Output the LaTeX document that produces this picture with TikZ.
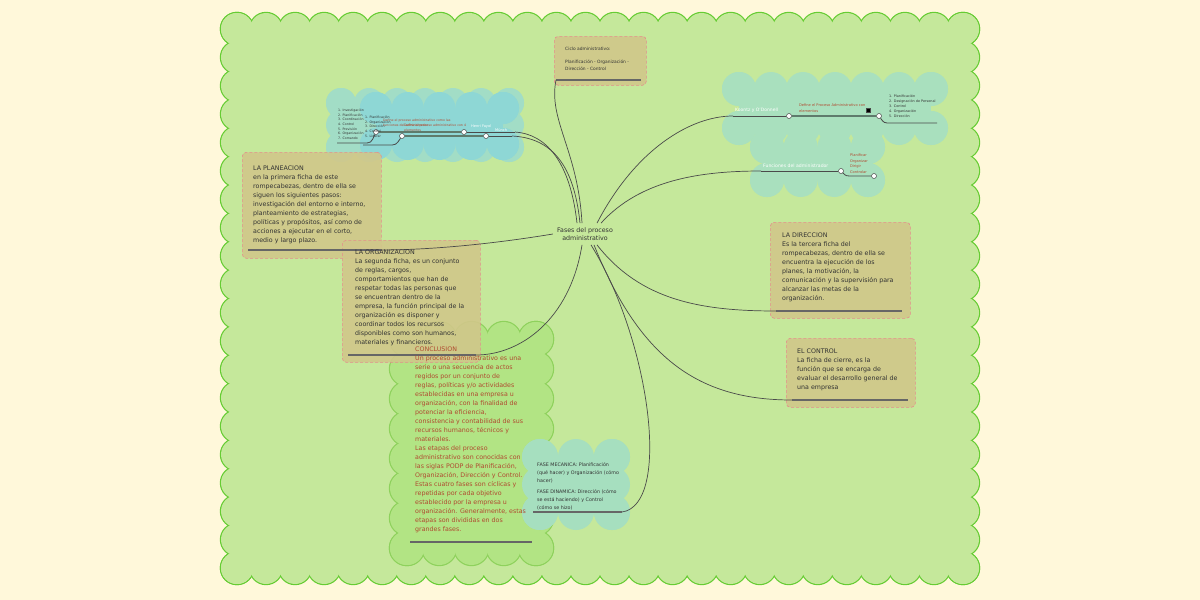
\documentclass[tikz,border=0pt]{standalone}
\usepackage{fontspec}
\setmainfont{DejaVu Sans}
\usetikzlibrary{positioning,calc}

\definecolor{paper}{HTML}{FFF8DA}
\definecolor{board}{HTML}{C5E89B}
\definecolor{boardline}{HTML}{66CC33}
\definecolor{card}{HTML}{D1C78A}
\definecolor{cardline}{HTML}{E58C8C}
\definecolor{ink}{HTML}{333333}
\definecolor{rust}{HTML}{B04A30}
\definecolor{wire}{HTML}{4A4A4A}
\definecolor{rulegray}{HTML}{666666}
\definecolor{stemgray}{HTML}{5E7B6C}
\definecolor{cyanA}{HTML}{A2DDC6}
\definecolor{cyanB}{HTML}{8ED7D5}
\definecolor{mint}{HTML}{A9E0BE}
\definecolor{teal}{HTML}{A6DFBF}
\definecolor{leaf}{HTML}{B2E484}
\definecolor{leafline}{HTML}{8ED15C}

% scalloped patch: x1 y1 x2 y2 (circle centres), radius, fill, border
\newcommand{\puff}[7]{%
  \pgfmathtruncatemacro\nh{max(1,round((#3-#1)/(1.8*#5)))}%
  \pgfmathtruncatemacro\nv{max(1,round((#4-#2)/(1.8*#5)))}%
  \pgfmathsetmacro\dh{(#3-#1)/\nh}%
  \pgfmathsetmacro\dv{(#4-#2)/\nv}%
  \foreach \i in {0,...,\nh}{
    \path[draw=#7,line width=2.4] ({#1+\dh*\i},#2) circle (#5pt) ({#1+\dh*\i},#4) circle (#5pt);}
  \foreach \j in {0,...,\nv}{
    \path[draw=#7,line width=2.4] (#1,{#2+\dv*\j}) circle (#5pt) (#3,{#2+\dv*\j}) circle (#5pt);}
  \foreach \i in {0,...,\nh}{
    \fill[#6] ({#1+\dh*\i},#2) circle (#5pt) ({#1+\dh*\i},#4) circle (#5pt);}
  \foreach \j in {0,...,\nv}{
    \fill[#6] (#1,{#2+\dv*\j}) circle (#5pt) (#3,{#2+\dv*\j}) circle (#5pt);}
  \fill[#6] (#1,#2) rectangle (#3,#4);
}

\begin{document}
\begin{tikzpicture}[x=1pt,y=-1pt,
  card/.style={draw=cardline,densely dashed,line width=0.6,fill=card,fill opacity=0.9,rounded corners=4,anchor=north west,inner sep=0},
  body/.style={anchor=north west,inner sep=0,align=left,text=ink,font=\fontsize{6.3}{9}\selectfont},
  small/.style={anchor=north west,inner sep=0,align=left,text=ink,font=\fontsize{4.4}{7}\selectfont},
  tiny/.style={anchor=north west,inner sep=0,align=left,text=ink,font=\fontsize{3.2}{4.6}\selectfont},
  tag/.style={anchor=base west,inner sep=0,text=white,font=\fontsize{4.5}{5}\selectfont},
  wire/.style={draw=wire,line width=0.7},
  rule/.style={draw=rulegray,line width=1.3},
  twig/.style={draw=wire,line width=0.8},
  stem/.style={draw=stemgray,line width=1.6},
  knot/.style={circle,draw=wire,fill=white,line width=0.5,inner sep=0,minimum size=5pt}]
\useasboundingbox (0,0) rectangle (1200,600);
\fill[paper] (0,0) rectangle (1200,600);

% board and clouds
\puff{237}{29}{963}{568}{16}{board}{boardline}
\puff{341}{103}{509}{147}{15}{cyanA}{none}
\puff{376}{108}{503}{144}{16}{cyanB}{none}
\puff{739}{89}{931}{128}{17}{mint}{none}
\puff{767}{147}{868}{180}{17}{mint}{none}
\puff{407}{339}{536}{548}{17}{leaf}{leafline}
\puff{540}{457}{612}{512}{18}{teal}{none}

% cards
\node[card,minimum width=92pt,minimum height=49pt] (cic) at (554,36) {};
\node[card,minimum width=139pt,minimum height=106pt] (plan) at (242,152) {};
\node[card,minimum width=138pt,minimum height=122pt] (org) at (342,240) {};
\node[card,minimum width=140pt,minimum height=96pt] (dir) at (770,222) {};
\node[card,minimum width=129pt,minimum height=69pt] (ctl) at (786,338) {};

% hub
\node[align=center,inner sep=4pt,text=ink,font=\fontsize{6.3}{8.5}\selectfont] (hub) at (585,234) {Fases del proceso\\administrativo};

% underline ends
\coordinate (cicL) at (556,80);   \coordinate (cicR) at (641,80);
\coordinate (planL) at (248,250); \coordinate (planR) at (381,250);
\coordinate (orgL) at (348,355);  \coordinate (orgR) at (476,355);
\coordinate (conL) at (410,542);  \coordinate (conR) at (532,542);
\coordinate (mecL) at (533,512);  \coordinate (mecR) at (622,512);
\coordinate (dirL) at (776,311);  \coordinate (dirR) at (902,311);
\coordinate (ctlL) at (792,400);  \coordinate (ctlR) at (908,400);

\draw[rule] (cicL) -- (cicR);
\draw[rule] (planL) -- (planR);
\draw[rule] (orgL) -- (orgR);
\draw[rule] (conL) -- (conR);
\draw[rule] (mecL) -- (mecR);
\draw[rule] (dirL) -- (dirR);
\draw[rule] (ctlL) -- (ctlR);

% branch: Koontz y O'Donnell
\node[knot] (k1) at (789,116) {};
\node[knot] (k2) at (879,116) {};
\coordinate (kA) at (733,116);
\coordinate (kB) at (937,123);
\draw[twig] (kA) -- (k1);
\draw[stem] (k1) -- (k2);
\draw[twig] (k2) .. controls (884,123) .. (891,123) -- (kB);
\fill[wire] (866,108) rectangle (870,112);

% branch: funciones
\node[knot] (u1) at (841,171) {};
\node[knot] (u2) at (874,176) {};
\coordinate (uA) at (761,171);
\draw[twig] (uA) -- (u1);
\draw[twig] (u1) .. controls (846,176) .. (853,176) -- (u2);

% branch: top left cloud
\node[knot] (f1) at (376,132) {};
\node[knot] (f2) at (464,132) {};
\node[knot] (m1) at (402,136) {};
\node[knot] (m2) at (486,136) {};
\coordinate (fA) at (515,132); \coordinate (fB) at (337,143);
\coordinate (mA) at (512,136); \coordinate (mB) at (363,145);
\draw[twig] (fA) -- (f2);
\draw[stem] (f2) -- (f1);
\draw[twig] (f1) .. controls (371,143) .. (363,143) -- (fB);
\draw[twig] (mA) -- (m2);
\draw[stem] (m2) -- (m1);
\draw[twig] (m1) .. controls (396,145) .. (388,145) -- (mB);

% connectors from the hub
\draw[wire] ([xshift=-3pt]hub.north) .. controls (578,150) and (548,120) .. (cicL);
\draw[wire] ([xshift=-8pt]hub.north) .. controls (570,160) and (545,134) .. (fA);
\draw[wire] ([xshift=-5pt]hub.north) .. controls (574,165) and (552,138) .. (mA);
\draw[wire] ([xshift=12pt]hub.north) .. controls (635,150) and (690,116) .. (kA);
\draw[wire] ([xshift=16pt]hub.north) .. controls (640,180) and (700,171) .. (uA);
\draw[wire] (hub.west) .. controls (480,246) and (420,250) .. (planR);
\draw[wire] ([xshift=-3pt]hub.south) .. controls (570,320) and (520,355) .. (orgR);
\draw[wire] ([xshift=6pt]hub.south) .. controls (650,340) and (672,505) .. (mecR);
\draw[wire] ([xshift=12pt]hub.south) .. controls (640,300) and (700,311) .. (dirL);
\draw[wire] ([xshift=9pt]hub.south) .. controls (640,360) and (700,400) .. (ctlL);

% texts
\node[small] (cictext) at (565,47) {Ciclo administrativo:\\[6pt]Planificación - Organización -\\Dirección - Control};
\node[body] (plantext) at (253,166) {LA PLANEACION\\en la primera ficha de este\\rompecabezas, dentro de ella se\\siguen los siguientes pasos:\\investigación del entorno e interno,\\planteamiento de estrategias,\\políticas y propósitos, así como de\\acciones a ejecutar en el corto,\\medio y largo plazo.};
\node[body] (orgtext) at (355,250) {LA ORGANIZACION\\La segunda ficha, es un conjunto\\de reglas, cargos,\\comportamientos que han de\\respetar todas las personas que\\se encuentran dentro de la\\empresa, la función principal de la\\organización es disponer y\\coordinar todos los recursos\\disponibles como son humanos,\\materiales y financieros.};
\node[body,text=rust] (context) at (415,347) {CONCLUSION\\Un proceso administrativo es una\\serie o una secuencia de actos\\regidos por un conjunto de\\reglas, políticas y/o actividades\\establecidas en una empresa u\\organización, con la finalidad de\\potenciar la eficiencia,\\consistencia y contabilidad de sus\\recursos humanos, técnicos y\\materiales.\\Las etapas del proceso\\administrativo son conocidas con\\las siglas PODP de Planificación,\\Organización, Dirección y Control.\\Estas cuatro fases son cíclicas y\\repetidas por cada objetivo\\establecido por la empresa u\\organización. Generalmente, estas\\etapas son divididas en dos\\grandes fases.};
\node[small,font=\fontsize{4.8}{8}\selectfont] (mectext) at (537,462) {FASE MECANICA: Planificación\\(qué hacer) y Organización (cómo\\hacer)\\[3pt]FASE DINAMICA: Dirección (cómo\\se está haciendo) y Control\\(cómo se hizo)};
\node[body] (dirtext) at (782,233) {LA DIRECCION\\Es la tercera ficha del\\rompecabezas, dentro de ella se\\encuentra la ejecución de los\\planes, la motivación, la\\comunicación y la supervisión para\\alcanzar las metas de la\\organización.};
\node[body] (ctltext) at (797,349) {EL CONTROL\\La ficha de cierre, es la\\función que se encarga de\\evaluar el desarrollo general de\\una empresa};

\node[tag] (koontz) at (735,111) {Koontz y O'Donnell};
\node[tiny,text=rust,font=\fontsize{3.6}{5.5}\selectfont] (kdef) at (799,104) {Define el Proceso Administrativo con\\elementos};
\node[tiny,font=\fontsize{3.4}{5}\selectfont] (klist) at (889,95) {1. Planificación\\2. Designación de Personal\\3. Control\\4. Organización\\5. Dirección};
\node[tag,font=\fontsize{4.6}{5}\selectfont] (funcs) at (763,167) {Funciones del administrador};
\node[tiny,text=rust,font=\fontsize{3.6}{5.5}\selectfont] (ulist) at (850,154) {Planificar\\Organizar\\Dirigir\\Controlar};

\node[tiny] (flist) at (338,109) {1. Investigación\\2. Planificación\\3. Coordinación\\4. Control\\5. Previsión\\6. Organización\\7. Comando};
\node[tiny] (mlist) at (365,116) {1. Planificación\\2. Organización\\3. Dirección\\4. Control\\5. Liderar};
\node[tiny,text=rust] (fdef) at (383,119) {Define el proceso administrativo como las\\funciones del administrador};
\node[tiny,text=rust] (mdef) at (404,124) {Define el proceso administrativo con 4\\elementos};
\node[tag,font=\fontsize{3.6}{4}\selectfont] (fayol) at (471,127) {Henri Fayol};
\node[tag,font=\fontsize{3.6}{4}\selectfont] (munch) at (495,131) {Münch};
\end{tikzpicture}
\end{document}
